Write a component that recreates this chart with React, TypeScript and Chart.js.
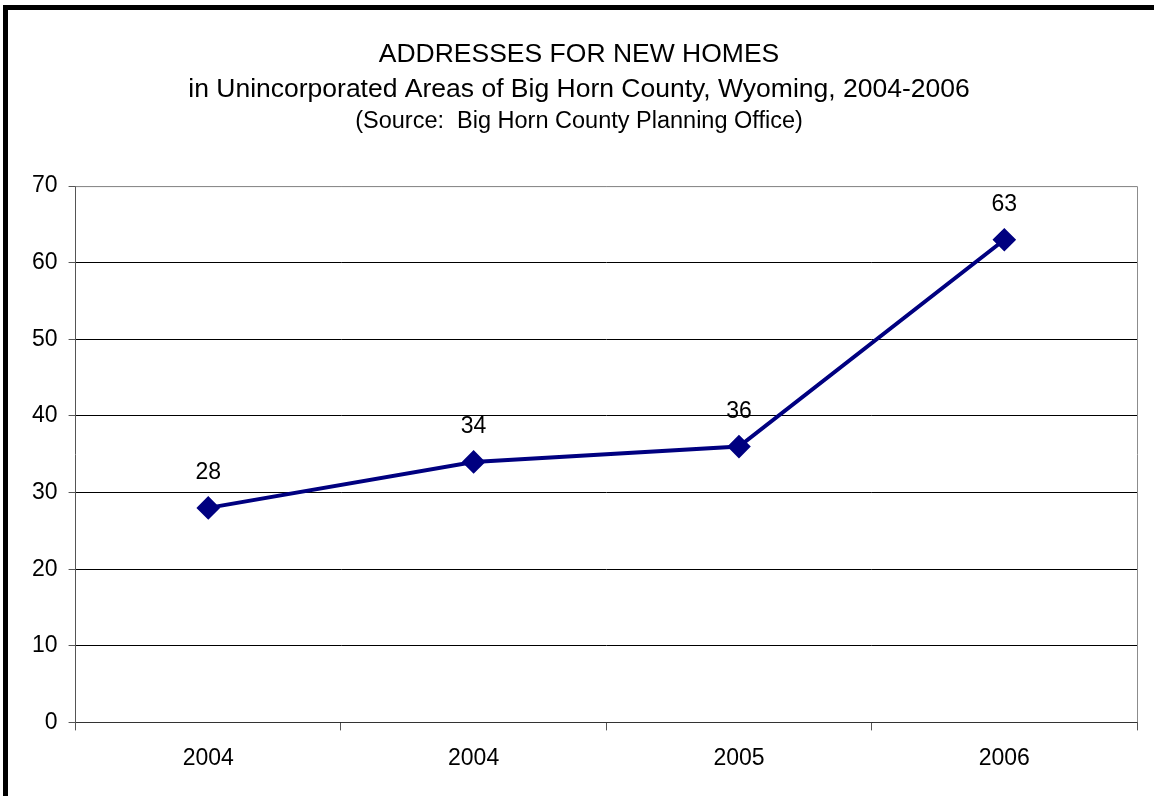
import React, { useEffect, useRef } from "react";
import { Chart, registerables } from "chart.js";

Chart.register(...registerables);

const TITLE_LINES = [
  "ADDRESSES FOR NEW HOMES",
  "in Unincorporated Areas of Big Horn County, Wyoming, 2004-2006",
];
const SUBTITLE = "(Source:  Big Horn County Planning Office)";
const CATEGORIES = ["2004", "2004", "2005", "2006"];
const VALUES = [28, 34, 36, 63];
const Y_MIN = 0;
const Y_MAX = 70;
const Y_STEP = 10;

const FONT = "'Liberation Sans', Arial, sans-serif";

const frameAndLabels = {
  id: "frameAndLabels",
  afterDatasetsDraw(chart: any) {
    const { ctx, chartArea } = chart;
    ctx.save();
    ctx.strokeStyle = "#8c8c8c";
    ctx.lineWidth = 1;
    ctx.beginPath();
    ctx.moveTo(chartArea.left, chartArea.top + 0.5);
    ctx.lineTo(chartArea.right + 0.5, chartArea.top + 0.5);
    ctx.lineTo(chartArea.right + 0.5, chartArea.bottom);
    ctx.stroke();

    const meta = chart.getDatasetMeta(0);
    const data = chart.data.datasets[0].data as number[];
    ctx.fillStyle = "#000";
    ctx.font = `23px ${FONT}`;
    ctx.textAlign = "center";
    ctx.textBaseline = "middle";
    meta.data.forEach((el: any, i: number) => {
      ctx.fillText(String(data[i]), el.x, el.y - 35);
    });
    ctx.restore();
  },
};

export default function App() {
  const ref = useRef<HTMLCanvasElement | null>(null);

  useEffect(() => {
    if (!ref.current) return;
    const chart = new Chart(ref.current, {
      type: "line",
      data: {
        labels: CATEGORIES,
        datasets: [
          {
            data: VALUES,
            borderColor: "#000080",
            backgroundColor: "#000080",
            borderWidth: 4,
            pointStyle: "rectRot",
            pointRadius: 9,
            pointHoverRadius: 9,
            pointBackgroundColor: "#000080",
            pointBorderColor: "#000080",
            tension: 0,
          },
        ],
      },
      options: {
        responsive: false,
        animation: false,
        devicePixelRatio: 1,
        layout: { padding: { left: 21, right: 17, top: 0, bottom: 10 } },
        plugins: {
          legend: { display: false },
          tooltip: { enabled: false },
          title: {
            display: true,
            text: TITLE_LINES,
            color: "#000",
            font: { family: FONT, size: 26.5, weight: "normal", lineHeight: 35 / 26.5 },
            padding: { top: 37.5, bottom: 0 },
          },
          subtitle: {
            display: true,
            text: SUBTITLE,
            color: "#000",
            font: { family: FONT, size: 23.5, weight: "normal", lineHeight: 1.2 },
            padding: { top: 0.4, bottom: 50 },
          },
        },
        scales: {
          x: {
            offset: true,
            grid: {
              display: true,
              drawOnChartArea: false,
              drawTicks: true,
              offset: true,
              tickLength: 8,
              tickColor: "#555",
            },
            border: { display: true, color: "#333", width: 1 },
            ticks: {
              color: "#000",
              font: { family: FONT, size: 23 },
              padding: 14,
              maxRotation: 0,
            },
          },
          y: {
            min: Y_MIN,
            max: Y_MAX,
            ticks: {
              stepSize: Y_STEP,
              color: "#000",
              font: { family: FONT, size: 23 },
              padding: 11,
            },
            grid: {
              color: (c: any) => (c.tick && c.tick.value === Y_MAX ? "#8c8c8c" : "#000"),
              tickLength: 7,
              tickColor: "#555",
              lineWidth: 1,
            },
            border: { display: true, color: "#555", width: 1 },
          },
        },
      },
      plugins: [frameAndLabels],
    });
    return () => chart.destroy();
  }, []);

  return (
    <div style={{ position: "fixed", left: 0, top: 0, width: 1154, height: 796, background: "#fff" }}>
      <canvas
        ref={ref}
        width={1154}
        height={796}
        style={{ position: "absolute", left: 0, top: 0, width: 1154, height: 796 }}
      />
      <div
        style={{
          position: "absolute",
          left: 3,
          top: 5,
          right: 0,
          bottom: 0,
          borderLeft: "5px solid #000",
          borderTop: "5px solid #000",
          pointerEvents: "none",
        }}
      />
    </div>
  );
}
